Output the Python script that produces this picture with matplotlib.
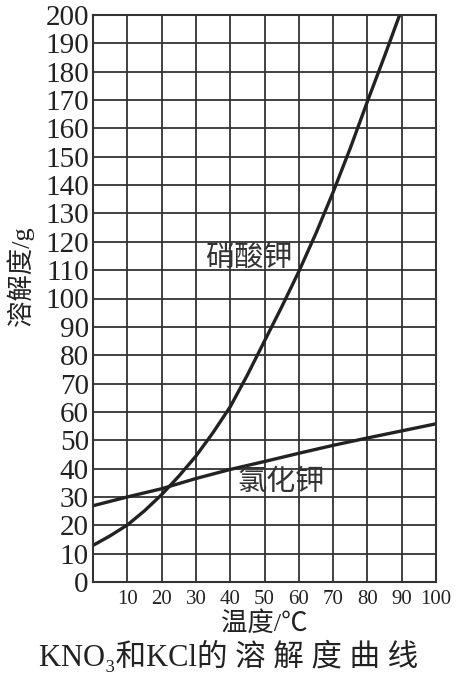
import matplotlib
matplotlib.use("Agg")
import matplotlib.pyplot as plt

# values
temps = [0, 5, 10, 15, 20, 25, 30, 35, 40, 45, 50, 55, 60, 65, 70, 75, 80, 85, 90]
kno3 = [12.9, 16.3, 20.1, 25.1, 30.8, 37.3, 44.4, 52.7, 61.8, 73, 85, 97, 109.5,
        123, 137.5, 153, 169.5, 185.5, 202]
kcl_temps = [0, 10, 20, 30, 40, 50, 60, 70, 80, 90, 100]
kcl = [26.9, 30.0, 32.9, 36.5, 39.7, 42.5, 45.4, 48.2, 50.8, 53.3, 55.8]

x_ticks = [10, 20, 30, 40, 50, 60, 70, 80, 90, 100]
y_ticks = list(range(0, 201, 10))

plt.rcParams['font.family'] = ['Liberation Serif', 'Noto Sans CJK SC', 'DejaVu Sans']

fig = plt.figure(figsize=(4.61, 6.74), dpi=100)
ax = fig.add_axes([93 / 461, 1 - 582 / 674, 343 / 461, 567 / 674])

ax.plot(temps, kno3, color='#222222', lw=2.4, solid_capstyle='butt')
ax.plot(kcl_temps, kcl, color='#222222', lw=2.4, solid_capstyle='butt')

ax.set_xlim(0, 100)
ax.set_ylim(0, 200)
ax.set_xticks(range(0, 101, 10))
ax.set_xticklabels([''] + [str(t) for t in x_ticks], fontsize=15)
ax.set_yticks(y_ticks)
ax.set_yticklabels([str(v) for v in y_ticks], fontsize=21)
ax.tick_params(axis='both', length=0, colors='#222222')
ax.tick_params(axis='x', pad=6)
ax.tick_params(axis='y', pad=3)
ax.grid(True, color='#333333', lw=1.3)
for s in ax.spines.values():
    s.set_color('#333333')
    s.set_linewidth(1.5)

ax.text(45.5, 114, '硝酸钾', fontsize=21, ha='center', va='center', color='#333333')
ax.text(54.8, 35, '氯化钾', fontsize=21, ha='center', va='center', color='#333333')

fig.text(20 / 461, 1 - 276 / 674, '溶解度/g', fontsize=19, rotation=90,
         ha='center', va='center', color='#222222')
ax.set_xlabel('温度/℃', fontsize=19, labelpad=1, color='#222222')

fig.text(229 / 461, 1 - 657 / 674, 'KNO\u2083和KCl的 溶 解 度 曲 线', fontsize=22,
         ha='center', va='center', color='#222222')

fig.savefig('out.png', dpi=100)
